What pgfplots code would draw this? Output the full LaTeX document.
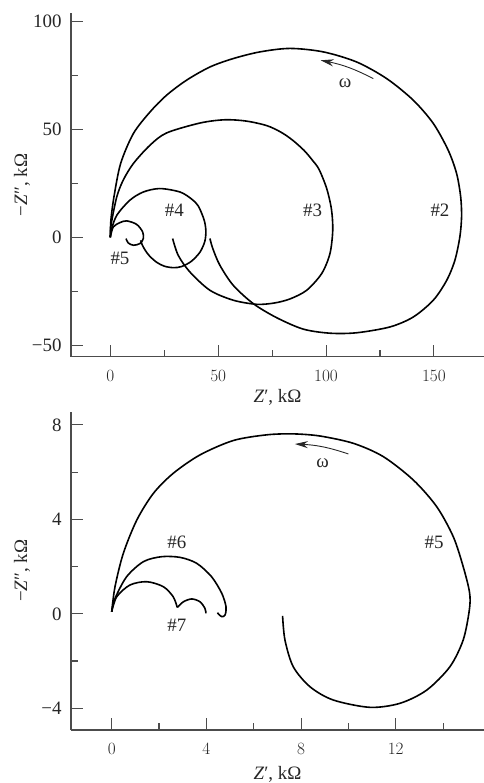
\documentclass[border=0pt]{standalone}
\usepackage{fontspec}
\setmainfont{Liberation Serif}
\usepackage{pgfplots}
\pgfplotsset{compat=1.18}
\usetikzlibrary{arrows.meta}

\newcommand\fs{\fontsize{19}{22}\selectfont}

\tikzset{lbl/.style={font=\fs, text=black!85}}
\pgfplotsset{
  nyq/.style={
    scale only axis, anchor=south west,
    axis lines=left, axis line style={-, line width=1.1bp, black!70},
    tick align=inside, major tick length=12bp, minor tick length=7bp,
    tick style={line width=1.1bp, black!70},
    tick label style={font=\fs, text=black!85},
    xticklabel style={inner sep=0pt, yshift=-13.3bp},
    yticklabel style={inner sep=0pt, xshift=-9.3bp},
    every axis y label/.style={at={(axis description cs:-0.1186,0.5)},
      rotate=90, anchor=center, font=\fs, text=black!85},
    ylabel={−\textit{Z}″, kΩ},
    xlabel={\textit{Z}′, kΩ},
  },
  curve/.style={black, line width=1.6bp, smooth, no markers},
}

\begin{document}
\begin{tikzpicture}
\path[use as bounding box] (0,0) rectangle (484bp,783bp);

% upper panel: samples #2 - #5
\begin{axis}[nyq,
  at={(71bp,426.3bp)}, width=413bp, height=343.4bp,
  xmin=-18.2, xmax=173.2, ymin=-55.4, ymax=103.9,
  xtick={0,50,100,150}, minor xtick={25,75,125},
  ytick={-50,0,50,100}, minor ytick={-25,25,75},
  yticklabels={−50,0,50,100},
  every axis x label/.style={at={(axis description cs:0.5,-0.1194)},
    anchor=center, font=\fs, text=black!85},
]
% #2
\addplot[curve] coordinates {
  (0,0) (0.3,8) (1.7,18.7) (4.8,34.2) (10.7,48.1) (18.4,58.1) (26.1,65.9)
  (35.4,72.9) (46.2,79) (57,82.9) (69.4,86) (83.3,87.6) (98.7,86) (114.2,81.3)
  (128.1,73.6) (140.4,63.6) (149.7,52.8) (156.6,40.4) (160.5,29.6) (162.4,18.7)
  (162.8,9.4) (162,0.1) (159.7,-10.7) (155.9,-20) (149.7,-29.2) (140.4,-37)
  (129.6,-41.6) (114.2,-44.3) (101.8,-44.5) (89.4,-42.6) (77.1,-37.3)
  (66.3,-30.8) (57,-22.3) (50.8,-13) (47.5,-5.2) (46.2,-0.6)
};
% #3
\addplot[curve] coordinates {
  (0,0) (0.4,6) (3,18.7) (6,26.5) (10.7,34.2) (18.4,42.7) (26.1,48.4) (41.6,53)
  (53,54.5) (63,53.9) (72.5,51.8) (79,48.8) (84.3,45.2) (89.8,40.3) (93.8,35.6)
  (96.8,31.4) (100.3,22.6) (102.5,13) (103.1,3.2) (101.8,-7.6) (98,-16.8)
  (91,-24.6) (83.3,-28.6) (76,-30.5) (67.8,-31.1) (57,-29.2) (46.2,-24.6)
  (36.9,-16.1) (31.5,-8.4) (28.9,-0.6)
};
% #4
\addplot[curve] coordinates {
  (0,0) (0.8,4.5) (3.2,10.5) (9.1,17.2) (15.3,21) (23,22.6) (32.3,21)
  (37.6,17.8) (40.8,14.5) (43.5,8) (44.3,3) (43.8,-2) (41.5,-7) (37.5,-11.2)
  (33,-13.6) (29.2,-14.1) (25,-13.4) (21.5,-11.6) (18.3,-8.8) (16.3,-6.2)
  (14.8,-3.5) (14.1,-1.4)
};
% #5
\addplot[curve] coordinates {
  (0,0) (1.4,4.8) (4.5,6.8) (7.6,7.6) (12.2,6) (15,2.5) (15.3,-0.6)
  (13.8,-2.9) (10.7,-3.7) (8.3,-2.6) (7.3,-0.6)
};
\draw[black!85, line width=0.9bp, -{Stealth[length=13bp, width=7bp]}]
  (axis cs:121.9,73.6) to[bend right=8] (axis cs:97.5,82.1);
\node[lbl] at (axis cs:108.8,71.6) {ω};
\node[lbl] at (axis cs:152.8,12.5) {\#2};
\node[lbl] at (axis cs:93.8,12.5) {\#3};
\node[lbl] at (axis cs:29.7,12.5) {\#4};
\node[lbl] at (axis cs:4.5,-9.9) {\#5};
\end{axis}

% lower panel: samples #5 - #7
\begin{axis}[nyq,
  at={(71bp,53bp)}, width=413bp, height=318.3bp,
  xmin=-1.72, xmax=15.73, ymin=-4.92, ymax=8.56,
  xtick={0,4,8,12}, minor xtick={2,6,10,14},
  ytick={-4,0,4,8}, minor ytick={-2,2,6},
  yticklabels={−4,0,4,8},
  every axis x label/.style={at={(axis description cs:0.5,-0.1382)},
    anchor=center, font=\fs, text=black!85},
]
% #5
\addplot[curve] coordinates {
  (0,0.09) (0.14,1.15) (0.49,2.56) (1.06,3.97) (1.76,5.1) (2.6,5.95)
  (3.73,6.73) (5.14,7.34) (6.55,7.58) (7.67,7.62) (8.8,7.53) (10.21,7.22)
  (11.47,6.66) (12.74,5.67) (13.73,4.54) (14.43,3.27) (14.85,2.0)
  (15.12,0.9) (15.11,0.16) (14.85,-1.11) (14.29,-2.24) (13.31,-3.23)
  (12.18,-3.79) (10.91,-3.96) (9.36,-3.65) (8.38,-3.09) (7.67,-2.24)
  (7.32,-1.11) (7.22,-0.09)
};
% #6
\addplot[curve] coordinates {
  (0,0.09) (0.14,0.65) (0.63,1.57) (1.34,2.21) (2.11,2.42) (2.89,2.39)
  (3.59,2.14) (4.22,1.57) (4.65,0.87) (4.83,0.3) (4.79,-0.05) (4.65,-0.12)
  (4.5,0) (4.47,0.05)
};
% #7
\addplot[curve] coordinates {
  (0,0.09) (0.21,0.72) (0.77,1.22) (1.48,1.36) (2.18,1.15) (2.6,0.72) (2.77,0.27)
};
\addplot[curve] coordinates {
  (2.77,0.27) (3.03,0.51) (3.38,0.63) (3.73,0.51) (3.94,0.23) (3.98,0.02)
};
\draw[black!85, line width=0.9bp, -{Stealth[length=13bp, width=7bp]}]
  (axis cs:10,6.77) to[bend right=8] (axis cs:7.74,7.19);
\node[lbl] at (axis cs:8.91,6.38) {ω};
\node[lbl] at (axis cs:2.75,3.02) {\#6};
\node[lbl] at (axis cs:13.62,3.02) {\#5};
\node[lbl] at (axis cs:2.75,-0.47) {\#7};
\end{axis}
\end{tikzpicture}
\end{document}
